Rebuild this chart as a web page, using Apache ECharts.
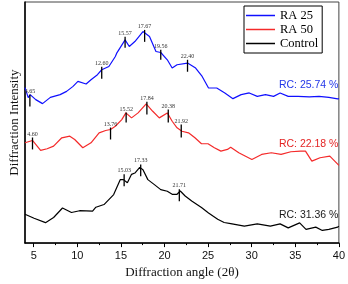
<!DOCTYPE html>
<html><head><meta charset="utf-8">
<script src="https://cdn.jsdelivr.net/npm/echarts@6/dist/echarts.min.js"></script>
<style>html,body{margin:0;padding:0;background:#fff}#c{width:348px;height:284px}</style>
</head><body><div id="c"></div>
<script>
const majorTicks = [5, 10, 15, 20, 25, 30, 35, 40];
const minorTicks = [7.5, 12.5, 17.5, 22.5, 27.5, 32.5, 37.5];
const seriesNames = ['RA 25', 'RA 50', 'Control'];

const blueAngle = [4.00,4.37,4.59,5.23,6.01,6.91,8.03,8.77,9.51,10.07,11.01,11.57,12.31,12.80,13.62,13.81,14.36,14.54,15.48,15.96,16.60,17.53,18.28,19.02,19.57,20.32,20.88,21.44,22.64,23.57,24.32,25.05,25.99,26.92,27.85,28.79,29.72,30.64,31.58,32.51,33.26,34.19,35.31,36.61,37.73,38.85,39.86,40.0];
const blueInt = [156,146,149,144,140,146.3,149,152.3,157.3,162.3,159.7,164,169,174,177.3,179,187.3,191,204,197.3,202.3,212.3,207.3,192.3,191.3,184,175.7,179,180.7,175.7,167.3,155.7,155.7,150.7,145,149,150.7,147.3,149,147.3,150.7,147.3,147.3,146.7,147.3,146.3,144.7,145];

const redAngle = [4.00,4.86,5.79,6.54,7.28,8.22,9.14,9.70,10.63,11.57,12.50,13.25,13.81,14.36,15.10,15.57,16.22,16.97,17.90,18.65,19.40,20.32,20.88,21.44,22.00,22.75,23.49,24.24,24.99,25.72,26.47,27.22,27.59,28.52,30.02,31.14,32.25,33.37,34.49,35.61,36.17,36.90,37.84,38.96,39.89,40.0];
const redInt = [100.7,103,93,94.7,97.3,105.7,107.3,104,95.7,100.7,110.7,113,114,117.3,124,130.7,125.7,130.7,139.7,132.3,125.7,130.7,122.3,115.7,112.3,110.7,105.7,99.7,99.7,95.7,92.3,94,96.3,90.7,84,89,90.7,89,91.7,92.3,92.3,82.3,85.7,87.3,79,78];

const blackAngle = [4.00,5.04,6.35,7.28,8.30,9.33,10.26,11.75,12.13,13.06,14.17,14.92,15.29,15.74,16.22,16.60,17.16,17.53,18.09,18.84,19.57,20.32,20.88,21.44,21.81,22.37,23.12,24.24,25.05,26.10,26.84,27.59,29.16,30.64,32.14,33.26,34.19,35.50,36.23,37.35,38.10,38.85,39.86,40.0];
const blackInt = [29,25,20.5,25.7,35.2,30.7,32.5,32,36,38.7,48.7,63.7,63.7,60.5,69,70.3,76,73.7,63.7,58.7,53.7,52,49,49,52.3,47.3,42.3,35.7,30.3,24,20.7,19.5,17,19.3,17,19.3,15.3,20.3,13.7,16,12.7,13.7,16,17];

const peakText = ['4.65','12.60','15.57','17.67','19.56','22.40','4.60','13.76','15.52','17.84','20.38','21.92','15.03','17.33','21.71'];
const peakAngle = [4.56,12.80,15.48,17.72,19.57,22.64,4.86,13.81,15.60,17.98,20.43,21.92,15.37,17.27,21.70];
const peakTop = [149,177,207,214,194,184,106,116,131,142,134,119,69,79,54];
const peakBottom = [137,165,196,202,184,172,94,104,121,129,121,106,57,67,42];

const rcText = ['RC: 25.74 %', 'RC: 22.18 %', 'RC: 31.36 %'];
const rcLevel = [158.3, 99.7, 28.3];
const rcAngle = 39.95;

const colors = ['#1010ff', '#f42a2a', '#000000'];
const rcColors = ['#2236e8', '#e42424', '#1a1a1a'];

function pairs(xs, ys) { return xs.map((x, i) => [x, ys[i]]); }
const peakData = peakAngle.map((a, i) => [a, peakTop[i], peakBottom[i], i]);
const rcData = rcLevel.map((v, i) => [rcAngle, v, i]);

const chart = echarts.init(document.getElementById('c'), null, {renderer: 'canvas'});
function lineSeries(name, xs, ys, color) {
  return {name, type: 'line', data: pairs(xs, ys), symbol: 'none', showSymbol: false,
    lineStyle: {color, width: 1.2}, itemStyle: {color}, z: 3, silent: true};
}
const option = {
  animation: false,
  grid: {left: 19, right: 7, top: 2, bottom: 40, show: true, borderColor: '#444', borderWidth: 1},
  legend: {
    data: seriesNames, orient: 'vertical', left: 244, top: 6,
    padding: [3, 4, 3, 2], itemGap: 1, itemWidth: 29, itemHeight: 1.5, icon: 'rect',
    borderColor: '#000', borderWidth: 1, backgroundColor: '#fff',
    textStyle: {fontFamily: 'Liberation Serif', fontSize: 12.5, color: '#000'}
  },
  xAxis: [{
    type: 'value', min: 4, max: 40,
    axisLine: {lineStyle: {color: '#000', width: 1.5}},
    axisTick: {customValues: majorTicks, length: 4, lineStyle: {color: '#000', width: 1}},
    axisLabel: {customValues: majorTicks, fontFamily: 'Liberation Sans', fontSize: 11, color: '#111', margin: 7},
    splitLine: {show: false},
    name: 'Diffraction angle (2θ)', nameLocation: 'middle', nameGap: 22,
    nameTextStyle: {fontFamily: 'Liberation Serif', fontSize: 13, color: '#111'}
  }, {
    type: 'value', min: 4, max: 40, position: 'bottom',
    axisLine: {show: false},
    axisTick: {customValues: minorTicks, length: 2, lineStyle: {color: '#000', width: 1}},
    axisLabel: {show: false}, splitLine: {show: false}
  }],
  yAxis: {
    type: 'value', min: 0, max: 242,
    axisLine: {show: true, lineStyle: {color: '#000', width: 1.5}},
    axisTick: {show: false}, axisLabel: {show: false}, splitLine: {show: false},
    name: 'Diffraction Intensity', nameLocation: 'middle', nameGap: 4,
    nameTextStyle: {fontFamily: 'Liberation Serif', fontSize: 13, color: '#111'}
  },
  series: [
    lineSeries(seriesNames[0], blueAngle, blueInt, colors[0]),
    lineSeries(seriesNames[1], redAngle, redInt, colors[1]),
    lineSeries(seriesNames[2], blackAngle, blackInt, colors[2]),
    {
      type: 'custom', data: peakData, silent: true, z: 5,
      renderItem: (params, api) => {
        const top = api.coord([api.value(0), api.value(1)]);
        const bot = api.coord([api.value(0), api.value(2)]);
        return {type: 'group', children: [
          {type: 'line', shape: {x1: top[0], y1: top[1], x2: bot[0], y2: bot[1]}, style: {stroke: '#000', lineWidth: 1.3}},
          {type: 'text', style: {text: peakText[api.value(3)], x: top[0], y: top[1] - 0.5, align: 'center', verticalAlign: 'bottom', fontSize: 6, fontFamily: 'Liberation Serif', fill: '#333'}}
        ]};
      }
    },
    {
      type: 'custom', data: rcData, silent: true, z: 5,
      renderItem: (params, api) => {
        const p = api.coord([api.value(0), api.value(1)]);
        const i = api.value(2);
        return {type: 'text', style: {text: rcText[i], x: p[0], y: p[1], align: 'right', verticalAlign: 'middle', fontSize: 10.5, fontFamily: 'Liberation Sans', fill: rcColors[i]}};
      }
    }
  ]
};
chart.setOption(option);
</script></body></html>
